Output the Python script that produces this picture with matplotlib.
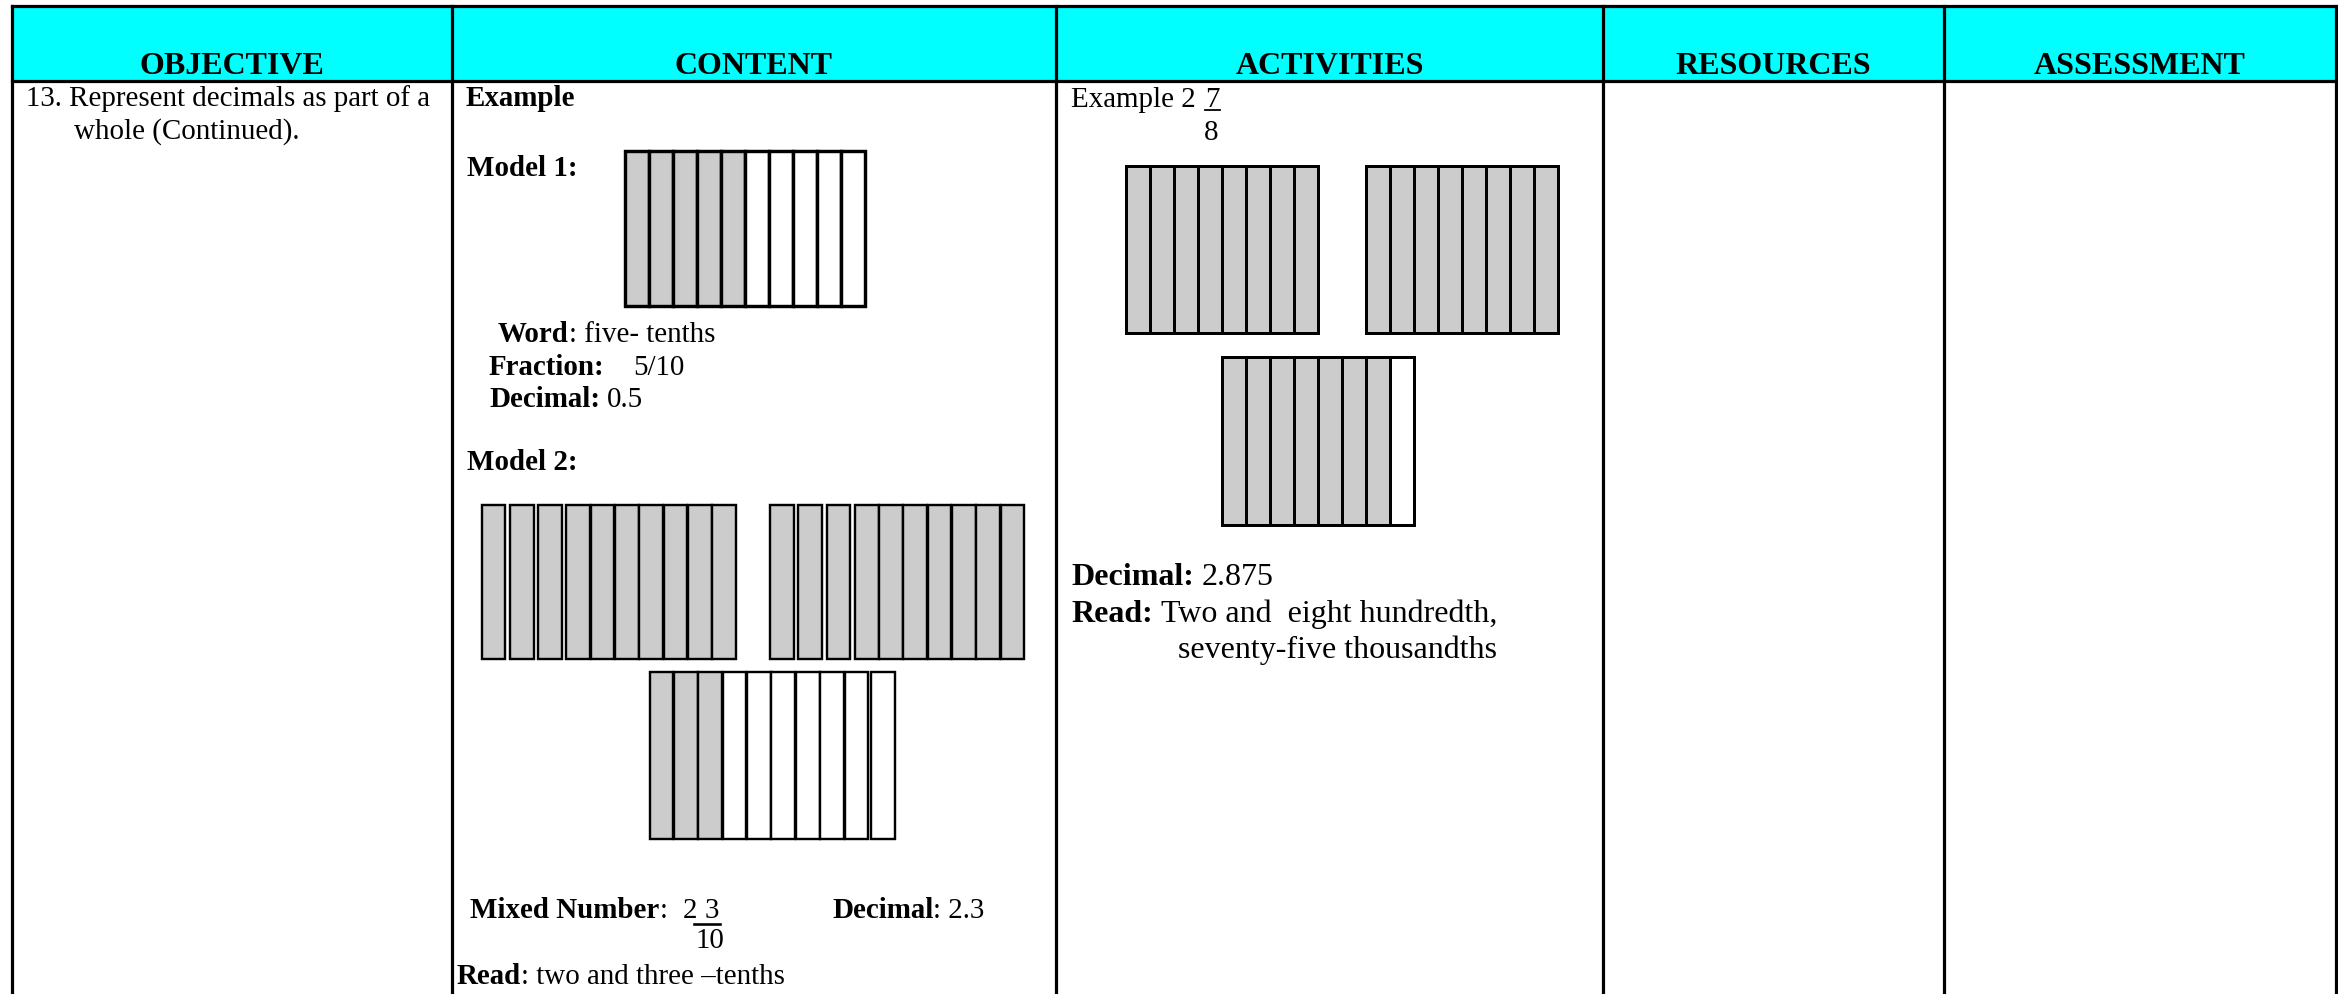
import matplotlib
matplotlib.use("Agg")
import matplotlib.pyplot as plt
from matplotlib.patches import Rectangle

# ---------------- data ----------------
headers = ["OBJECTIVE", "CONTENT", "ACTIVITIES", "RESOURCES", "ASSESSMENT"]
objective_lines = ["13. Represent decimals as part of a", "whole (Continued)."]

model1_parts = 10
model1_shaded = 5
model1_word = "five- tenths"
model1_fraction = "5/10"
model1_decimal = "0.5"

model2_parts = 10
model2_shaded = [10, 10, 3]
model2_whole = "2"
model2_num = "3"
model2_den = "10"
model2_decimal = "2.3"
model2_read = "two and three \u2013tenths"

activity_whole = "2"
activity_num = "7"
activity_den = "8"
activity_parts = 8
activity_shaded = [8, 8, 7]
activity_decimal = "2.875"
activity_read = ["Two and  eight hundredth,", "seventy-five thousandths"]

# ---------------- layout ----------------
W, H, DPI = 2338, 995, 100
col_edges = [12, 452, 1056, 1603, 1944, 2336]
TOP, HEAD_BOTTOM = 7, 82
GRAY = "#CCCCCC"
CYAN = "#00FFFF"
SERIF = ["Liberation Serif", "DejaVu Serif"]

fig = plt.figure(figsize=(W / DPI, H / DPI), dpi=DPI)
ax = fig.add_axes([0, 0, 1, 1])
ax.set_xlim(0, W)
ax.set_ylim(H, 0)
ax.axis("off")
renderer = fig.canvas.get_renderer()


def pt(px):
    return px * 72.0 / DPI


def rich(x, y, parts, size_px):
    fs = pt(size_px)
    for s, bold in parts:
        lead = len(s) - len(s.lstrip(" "))
        trail = len(s) - len(s.rstrip(" "))
        x += lead * 0.25 * size_px
        core = s.strip(" ")
        if core:
            t = ax.text(x, y, core, fontsize=fs, family=SERIF,
                        fontweight="bold" if bold else "normal",
                        ha="left", va="baseline", color="black")
            x += t.get_window_extent(renderer).width
        x += trail * 0.25 * size_px
    return x


def strips(x0, y0, w, h, n, shaded, lw, gaps=None):
    x = x0
    for i in range(n):
        ax.add_patch(Rectangle((x, y0), w, h,
                               facecolor=GRAY if i < shaded else "white",
                               edgecolor="black", lw=lw, zorder=3))
        x += w + (gaps[i] if gaps is not None and i < len(gaps) else 0)


# header band
ax.add_patch(Rectangle((col_edges[0], TOP), col_edges[-1] - col_edges[0],
                       HEAD_BOTTOM - TOP, facecolor=CYAN, edgecolor="none", zorder=1))
line_lw = pt(3.2)
ax.plot([col_edges[0], col_edges[-1]], [TOP, TOP], color="black", lw=line_lw, zorder=4,
        solid_capstyle="projecting")
ax.plot([col_edges[0], col_edges[-1]], [HEAD_BOTTOM, HEAD_BOTTOM], color="black",
        lw=line_lw, zorder=4)
for xe in col_edges:
    ax.plot([xe, xe], [TOP, H + 5], color="black", lw=line_lw, zorder=4)

for i, h in enumerate(headers):
    cx = (col_edges[i] + col_edges[i + 1]) / 2
    ax.text(cx, 74, h, fontsize=pt(32), family=SERIF, fontweight="bold",
            ha="center", va="baseline", zorder=5)

BODY = 29

# column 1
rich(26, 106, [(objective_lines[0], False)], BODY)
rich(74, 139, [(objective_lines[1], False)], BODY)

# column 2
rich(466, 106, [("Example", True)], BODY)
rich(467, 176, [("Model 1:", True)], BODY)
strips(625, 152, 24, 155, model1_parts, model1_shaded, pt(3.4))
rich(498, 342, [("Word", True), (": " + model1_word, False)], BODY)
rich(489, 375, [("Fraction:", True)], BODY)
rich(633, 375, [(model1_fraction, False)], BODY)
rich(489, 407, [("Decimal:", True), (" " + model1_decimal, False)], BODY)
rich(467, 470, [("Model 2:", True)], BODY)

gaps_a = [4.6, 4.6, 4.6] + [0.6] * 6
strips(481.5, 506, 23.7, 154, model2_parts, model2_shaded[0], pt(2.4), gaps_a)
strips(770, 506, 23.7, 154, model2_parts, model2_shaded[1], pt(2.4), gaps_a)
strips(649.5, 673, 23.7, 167, model2_parts, model2_shaded[2], pt(2.4),
       [0.7] * 8 + [2.5])

MIX_Y = 918
rich(470, MIX_Y, [("Mixed Number", True), (":", False)], BODY)
rich(683, MIX_Y, [(model2_whole, False)], BODY)
rich(705, MIX_Y, [(model2_num, False)], BODY)
ax.plot([694, 720], [925, 925], color="black", lw=pt(2.6), zorder=5)
rich(696, 948, [(model2_den, False)], BODY)
rich(832, MIX_Y, [("Decimal", True), (": " + model2_decimal, False)], BODY)
rich(457, 984, [("Read", True), (": " + model2_read, False)], BODY)

# column 3
rich(1071, 107, [("Example " + activity_whole, False)], BODY)
rich(1205, 107, [(activity_num, False)], BODY)
ax.plot([1205, 1220], [111, 111], color="black", lw=pt(1.8), zorder=5)
rich(1204, 140, [(activity_den, False)], BODY)

strips(1126, 167, 24, 167, activity_parts, activity_shaded[0], pt(3.0))
strips(1366, 167, 24, 167, activity_parts, activity_shaded[1], pt(3.0))
strips(1222, 358, 24, 168, activity_parts, activity_shaded[2], pt(3.0))

rich(1071, 585, [("Decimal:", True), (" " + activity_decimal, False)], 32)
rich(1071, 622, [("Read:", True), (" " + activity_read[0], False)], 32)
rich(1178, 658, [(activity_read[1], False)], 32)

fig.savefig("out.png", dpi=DPI, facecolor="white")
